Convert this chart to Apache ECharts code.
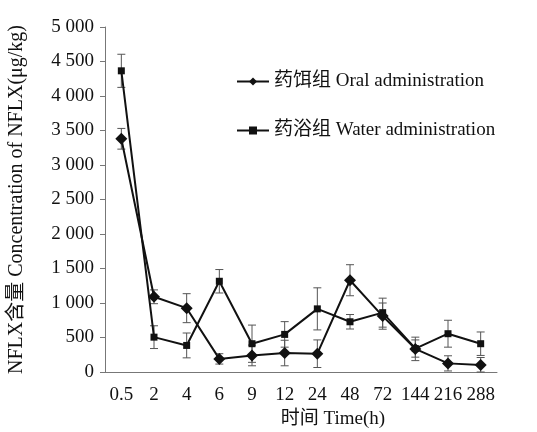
<!DOCTYPE html>
<html><head><meta charset="utf-8">
<script src="https://cdn.jsdelivr.net/npm/echarts@6/dist/echarts.min.js"></script>
<style>html,body{margin:0;padding:0;background:#fff;}#c{width:537px;height:432px;}</style>
</head><body><div id="c"></div>
<script>
const categories = ['0.5','2','4','6','9','12','24','48','72','144','216','288'];
const oral = [3380, 1090, 925, 190, 240, 275, 265, 1330, 810, 335, 125, 100];
const oralSD = [150, 100, 210, 75, 150, 185, 200, 225, 190, 170, 110, 110];
const water = [4365, 505, 385, 1315, 410, 545, 915, 728, 860, 340, 555, 410];
const waterSD = [240, 165, 180, 170, 270, 185, 305, 105, 210, 125, 195, 170];
const oralName = '药饵组 Oral administration';
const waterName = '药浴组 Water administration';
const FONT = '"Liberation Serif","Times New Roman","Noto Sans CJK SC",serif';

function errData(vals, sd){ return vals.map((v,i)=>[i, v - sd[i], v + sd[i]]); }
function errRender(params, api){
  const x = api.value(0);
  const lo = api.coord([x, Math.max(0, api.value(1))]);
  const hi = api.coord([x, api.value(2)]);
  const w = 4;
  const st = {stroke:'#555', lineWidth:1};
  return {type:'group', children:[
    {type:'line', shape:{x1:lo[0],y1:lo[1],x2:hi[0],y2:hi[1]}, style:st},
    {type:'line', shape:{x1:lo[0]-w,y1:lo[1],x2:lo[0]+w,y2:lo[1]}, style:st},
    {type:'line', shape:{x1:hi[0]-w,y1:hi[1],x2:hi[0]+w,y2:hi[1]}, style:st}
  ]};
}
function fmt(v){
  if (v >= 1000){ const k = Math.floor(v/1000); const r = String(v%1000).padStart(3,'0'); return k + ' ' + r; }
  return String(v);
}
const chart = echarts.init(document.getElementById('c'));
chart.setOption({
  backgroundColor:'#fff',
  animation:false,
  textStyle:{fontFamily:FONT},
  grid:{left:105, right:40, top:27, bottom:60, containLabel:false, outerBoundsMode:'none'},
  legend:{
    orient:'vertical', left:231, top:67, itemGap:30, itemWidth:32, itemHeight:10,
    textStyle:{fontFamily:FONT, fontSize:19, color:'#111'},
    data:[oralName, waterName]
  },
  xAxis:{
    type:'category', data:categories, boundaryGap:true,
    axisLine:{lineStyle:{color:'#777', width:1}},
    axisTick:{inside:true, length:5, lineStyle:{color:'#777'}},
    axisLabel:{fontFamily:FONT, fontSize:19, color:'#111', margin:14, interval:0},
    name:'时间 Time(h)', nameLocation:'middle', nameGap:31,
    nameTextStyle:{fontFamily:FONT, fontSize:19, color:'#111', padding:[0,0,0,64]}
  },
  yAxis:{
    type:'value', min:0, max:5000, interval:500,
    axisLine:{show:true, lineStyle:{color:'#777', width:1}},
    axisTick:{show:true, length:5, lineStyle:{color:'#777'}},
    splitLine:{show:false},
    axisLabel:{fontFamily:FONT, fontSize:19, color:'#111', margin:11, formatter:fmt},
    name:'NFLX含量 Concentration of NFLX(μg/kg)', nameLocation:'middle', nameGap:78, nameRotate:90,
    nameTextStyle:{fontFamily:FONT, fontSize:20, color:'#111'}
  },
  series:[
    {type:'custom', renderItem:errRender, data:errData(water, waterSD), z:1, silent:true, encode:{x:0,y:[1,2]}},
    {type:'custom', renderItem:errRender, data:errData(oral, oralSD), z:1, silent:true, encode:{x:0,y:[1,2]}},
    {name:waterName, type:'line', data:water, symbol:'rect', symbolSize:7,
     lineStyle:{color:'#111', width:2}, itemStyle:{color:'#111'}, z:3},
    {name:oralName, type:'line', data:oral, symbol:'diamond', symbolSize:12,
     lineStyle:{color:'#111', width:2}, itemStyle:{color:'#111'}, z:4}
  ]
});
</script></body></html>
